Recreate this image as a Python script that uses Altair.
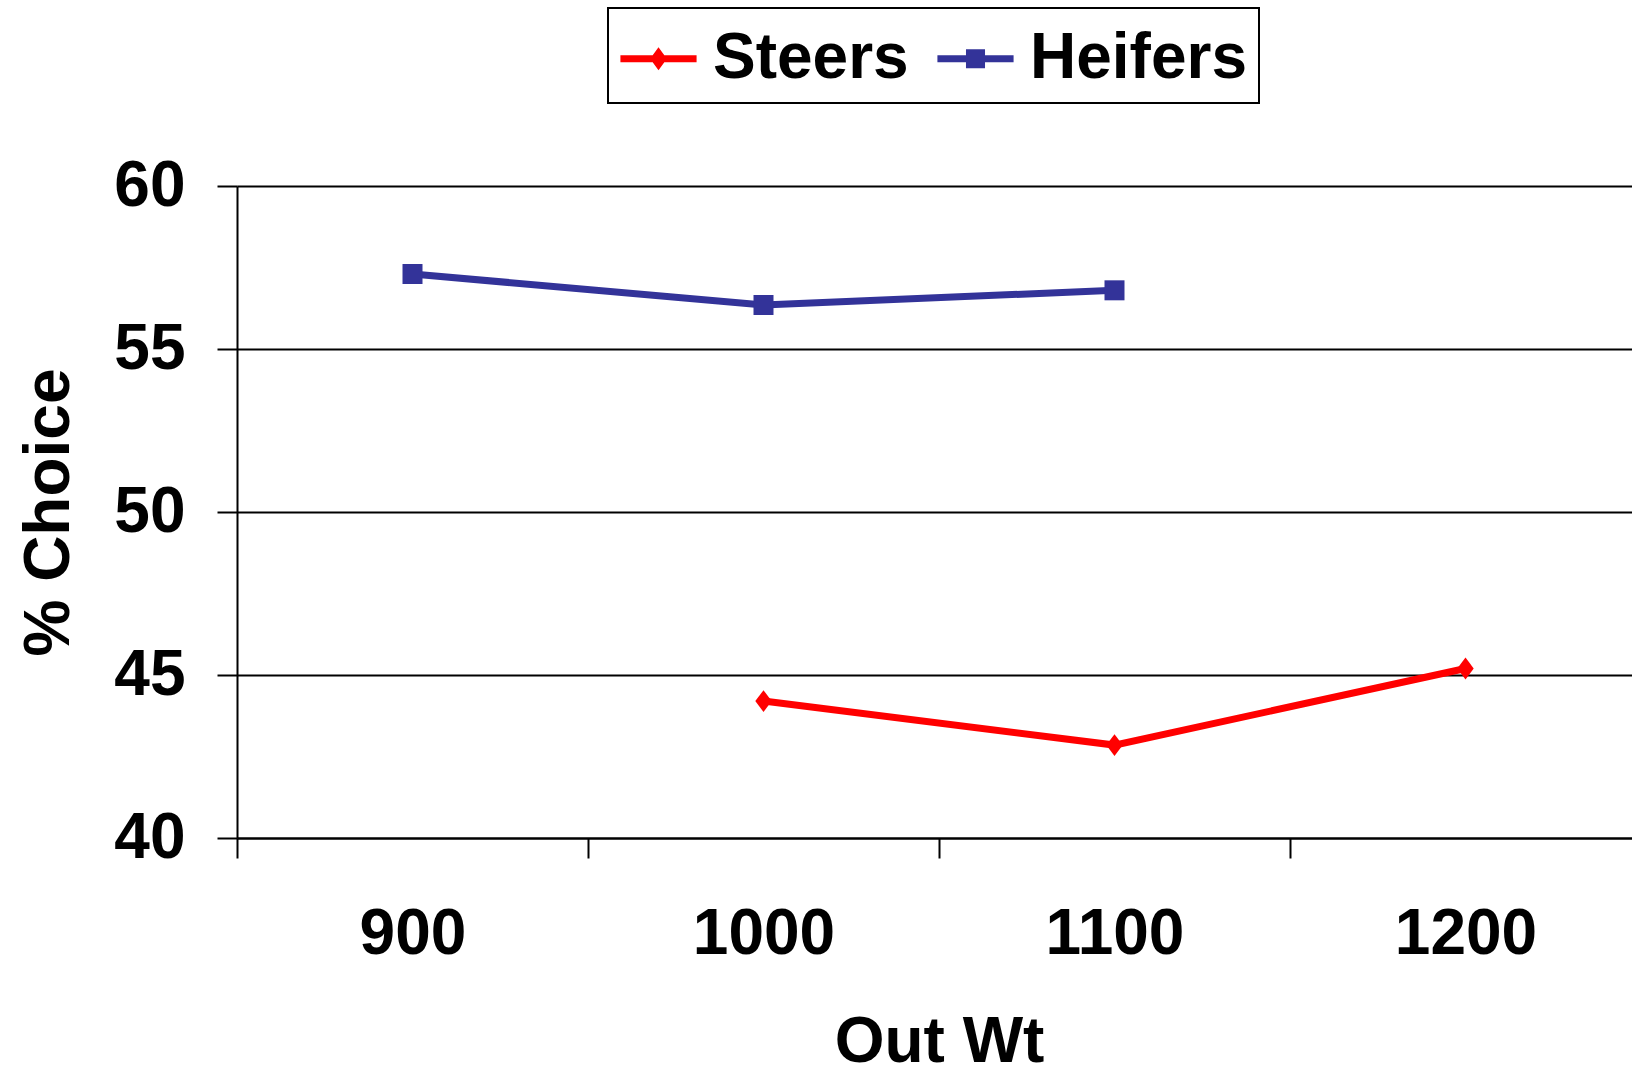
import altair as alt
import pandas as pd

series_names = ["Steers", "Heifers"]
series_colors = ["#FF0000", "#333399"]
out_wt = [900, 1000, 1100, 1200]

steers_wt = [1000, 1100, 1200]
steers_pct = [44.2, 42.85, 45.2]
heifers_wt = [900, 1000, 1100]
heifers_pct = [57.3, 56.35, 56.8]

y_ticks = [40, 45, 50, 55, 60]

rows = []
for w, p in zip(steers_wt, steers_pct):
    rows.append({"series": "Steers", "wt": w, "pct": p})
for w, p in zip(heifers_wt, heifers_pct):
    rows.append({"series": "Heifers", "wt": w, "pct": p})
df = pd.DataFrame(rows)

FONT = "Liberation Sans"

x_enc = alt.X(
    "wt:O",
    title="Out Wt",
    scale=alt.Scale(domain=out_wt, paddingInner=0, paddingOuter=0, range=[0, 1404]),
    axis=alt.Axis(tickBand="extent", labelAngle=0, grid=False),
)
y_enc = alt.Y(
    "pct:Q",
    title="% Choice",
    scale=alt.Scale(domain=[40, 60], nice=False, zero=False),
    axis=alt.Axis(values=y_ticks, grid=True),
)
color_scale = alt.Scale(domain=series_names, range=series_colors)

base = alt.Chart(df)
steers = base.transform_filter(alt.datum.series == "Steers")
heifers = base.transform_filter(alt.datum.series == "Heifers")

steer_line = steers.mark_line(strokeWidth=7, color=series_colors[0]).encode(x=x_enc, y=y_enc)
heifer_line = heifers.mark_line(strokeWidth=7, color=series_colors[1]).encode(x=x_enc, y=y_enc)

steer_pts = steers.mark_point(
    shape="M0,-1L0.75,0L0,1L-0.75,0Z", filled=True, size=480, opacity=1, color=series_colors[0]
).encode(x=x_enc, y=y_enc)

heifer_pts = heifers.mark_point(
    shape="square", filled=True, size=400, opacity=1, color=series_colors[1]
).encode(x=x_enc, y=y_enc)

legend_shapes = [
    "M-1,-0.09L1,-0.09L1,0.09L-1,0.09Z M0,-0.3L0.22,0L0,0.3L-0.22,0Z",
    "M-1,-0.09L1,-0.09L1,0.09L-1,0.09Z M-0.25,-0.25L0.25,-0.25L0.25,0.25L-0.25,0.25Z",
]
leg = alt.Legend(title=None, orient="none", legendX=371, legendY=-178, direction="horizontal")

legend_layer = base.transform_filter("false").mark_point(filled=True, opacity=1).encode(
    x=x_enc,
    y=y_enc,
    color=alt.Color("series:N", scale=color_scale, legend=leg),
    shape=alt.Shape("series:N", scale=alt.Scale(domain=series_names, range=legend_shapes), legend=leg),
)

chart = (
    alt.layer(steer_line, heifer_line, steer_pts, heifer_pts, legend_layer)
    .properties(
        width=1395,
        height=652,
        autosize="none",
        padding={"left": 237, "top": 186, "right": 0, "bottom": 234},
        background="white",
    )
    .configure_view(stroke=None)
    .configure_axis(
        labelFont=FONT,
        titleFont=FONT,
        labelFontSize=64,
        titleFontSize=64,
        labelFontWeight="bold",
        titleFontWeight="bold",
        labelColor="black",
        titleColor="black",
        domainColor="black",
        domainWidth=2,
        tickColor="black",
        tickWidth=2,
        tickSize=20,
        gridColor="black",
        gridWidth=2,
        gridOpacity=1,
    )
    .configure_axisY(labelPadding=32, titlePadding=32)
    .configure_axisX(labelPadding=44, titlePadding=44)
    .configure_legend(
        labelFont=FONT,
        labelFontSize=64,
        labelFontWeight="bold",
        labelColor="black",
        labelOffset=16,
        columnPadding=28,
        padding=12,
        symbolSize=5800,
        symbolStrokeWidth=0,
        symbolOpacity=1,
        strokeColor="black",
        strokeWidth=2,
        labelLimit=0,
    )
)

chart.save("out.html", embed_options={"renderer": "svg", "actions": False})
